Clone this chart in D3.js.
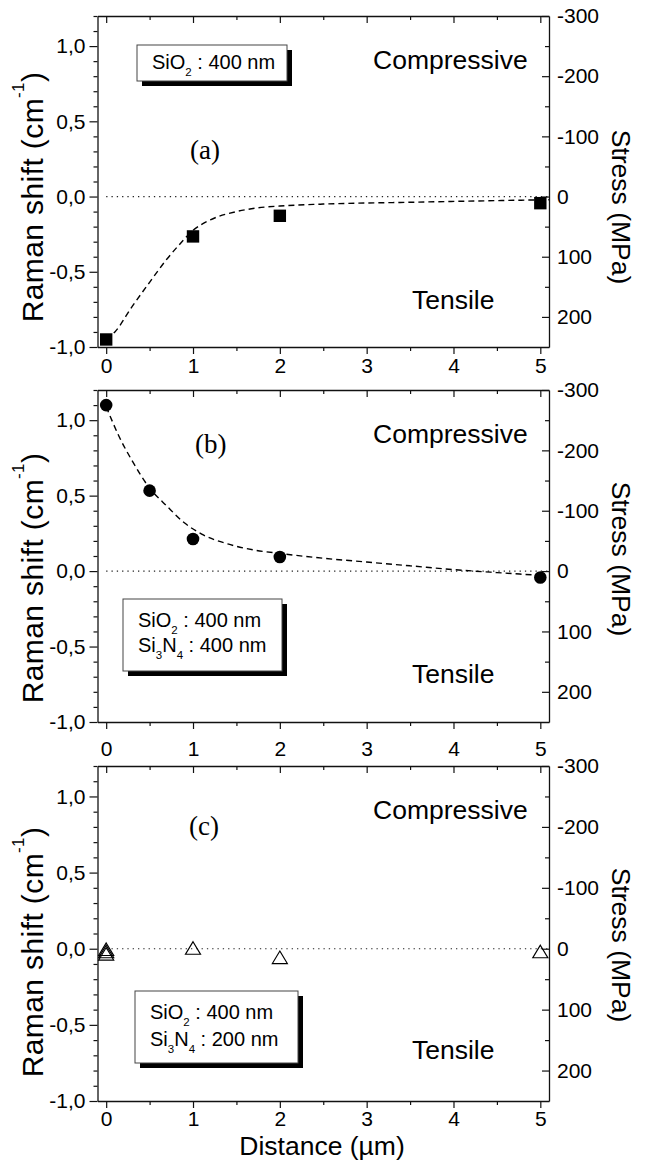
<!DOCTYPE html>
<html>
<head>
<meta charset="utf-8">
<script src="https://cdn.jsdelivr.net/npm/d3@7.9.0/dist/d3.min.js"></script>
<style>
  body { margin: 0; background: #fff; }
  svg text { font-family: "Liberation Sans", Arial, sans-serif; fill: #000; }
</style>
</head>
<body>
<svg id="chart" width="653" height="1161"></svg>
<script>
// values: distance (µm) vs Raman shift (cm-1)
const xTicks = [0, 1, 2, 3, 4, 5];
const shiftTicks = [-1, -0.5, 0, 0.5, 1];
const stressTicks = [-300, -200, -100, 0, 100, 200];

// (a) SiO2 400 nm
const distA = [0, 1, 2, 5];
const shiftA = [-0.95, -0.265, -0.128, -0.044];
const fitDistA = [0, 0.1, 0.3, 0.5, 0.7, 0.85, 1.0, 1.2, 1.5, 1.75, 2, 2.5, 3.5, 4.5, 5.1];
const fitShiftA = [-0.95, -0.9, -0.73, -0.57, -0.415, -0.315, -0.225, -0.155, -0.1, -0.075, -0.063, -0.05, -0.038, -0.027, -0.021];

// (b) SiO2 400 nm + Si3N4 400 nm
const distB = [0, 0.5, 1, 2, 5];
const shiftB = [1.10, 0.533, 0.213, 0.093, -0.042];
const fitDistB = [0, 0.15, 0.3, 0.5, 0.7, 0.9, 1.1, 1.4, 1.7, 2, 2.5, 3, 3.5, 4, 4.5, 5.05];
const fitShiftB = [1.09, 0.89, 0.73, 0.55, 0.43, 0.32, 0.245, 0.18, 0.14, 0.117, 0.085, 0.06, 0.035, 0.01, -0.01, -0.03];

// (c) SiO2 400 nm + Si3N4 200 nm
const distC = [0, 0, 0, 1, 2, 5];
const shiftC = [-0.005, -0.02, -0.035, 0.003, -0.058, -0.02];

// legend lines: [text, subscript] pieces
const legendA = [[["SiO", "2"], [" : 400 nm", ""]]];
const legendB = [[["SiO", "2"], [" : 400 nm", ""]], [["Si", "3"], ["N", "4"], [" : 400 nm", ""]]];
const legendC = [[["SiO", "2"], [" : 400 nm", ""]], [["Si", "3"], ["N", "4"], [" : 200 nm", ""]]];

const panels = [
  { tag: "(a)", dist: distA, shift: shiftA, fitX: fitDistA, fitY: fitShiftA, mark: "square", legend: legendA,
    top: 16, bottom: 347, box: [137, 45, 150, 36], lineY: [24], tagPos: [190, 159], xLab: 26, ramanY: 197, stressY: 207 },
  { tag: "(b)", dist: distB, shift: shiftB, fitX: fitDistB, fitY: fitShiftB, mark: "circle", legend: legendB,
    top: 390, bottom: 722, box: [123, 599, 159, 72], lineY: [27.5, 53], tagPos: [195, 453], xLab: 34, ramanY: 578, stressY: 559 },
  { tag: "(c)", dist: distC, shift: shiftC, fitX: null, fitY: null, mark: "triangle", legend: legendC,
    top: 766, bottom: 1101, box: [135, 991, 163, 72], lineY: [28, 55], tagPos: [189, 835], xLab: 25, ramanY: 952, stressY: 945 }
];

const svg = d3.select("#chart");
const x = d3.scaleLinear().domain([-0.1, 5.1]).range([97.5, 549]);

const fmtShift = d => d3.format(".1f")(d).replace(".", ",").replace("\u2212", "-");
const fmtStress = d => d3.format("d")(d).replace("\u2212", "-");

const minorShift = d3.range(-10, 13).map(i => i / 10).filter(v => Math.abs(v * 2 - Math.round(v * 2)) > 1e-6);
const minorStress = [-250, -150, -50, 50, 150];
const minorX = [0.5, 1.5, 2.5, 3.5, 4.5];

function styleAxis(g) {
  g.selectAll("path.domain").attr("stroke", "#111").attr("stroke-width", 1.3);
  g.selectAll(".tick line").attr("stroke", "#111").attr("stroke-width", 1.2);
  g.selectAll(".tick text").attr("font-size", 21).attr("font-family", '"Liberation Sans", Arial, sans-serif').attr("fill", "#000");
}

panels.forEach(p => {
  const y = d3.scaleLinear().domain([-1, 1.2]).range([p.bottom, p.top]);
  const ys = d3.scaleLinear().domain([250, -300]).range([p.bottom, p.top]);
  const g = svg.append("g");

  // zero reference
  g.append("line")
    .attr("x1", x(0)).attr("x2", x(5.1))
    .attr("y1", y(0)).attr("y2", y(0))
    .attr("stroke", "#222").attr("stroke-width", 1.2).attr("stroke-dasharray", "1.3,4");

  // fit curve
  if (p.fitX) {
    const pts = p.fitX.map((d, i) => [d, p.fitY[i]]);
    g.append("path")
      .attr("d", d3.line().x(d => x(d[0])).y(d => y(d[1])).curve(d3.curveMonotoneX)(pts))
      .attr("fill", "none").attr("stroke", "#000").attr("stroke-width", 1.4)
      .attr("stroke-dasharray", "6,4");
  }

  // axes: left / bottom with labels, top / right mirrored with inward ticks
  g.append("g").attr("transform", `translate(${x.range()[0]},0)`)
    .call(d3.axisLeft(y).tickValues(shiftTicks).tickFormat(fmtShift).tickSize(8).tickSizeOuter(0).tickPadding(4));
  g.append("g").attr("transform", `translate(${x.range()[0]},0)`)
    .call(d3.axisLeft(y).tickValues(minorShift).tickFormat("").tickSize(4).tickSizeOuter(0))
    .call(s => s.select("path.domain").remove());
  g.append("g").attr("transform", `translate(0,${p.bottom})`)
    .call(d3.axisBottom(x).tickValues(xTicks).tickFormat(d3.format("d")).tickSize(7).tickSizeOuter(0).tickPadding(p.xLab - 22));
  g.append("g").attr("transform", `translate(0,${p.bottom})`)
    .call(d3.axisBottom(x).tickValues(minorX).tickFormat("").tickSize(4).tickSizeOuter(0))
    .call(s => s.select("path.domain").remove());
  g.append("g").attr("transform", `translate(0,${p.top})`)
    .call(d3.axisTop(x).tickValues(xTicks).tickFormat("").tickSize(-7).tickSizeOuter(0));
  g.append("g").attr("transform", `translate(0,${p.top})`)
    .call(d3.axisTop(x).tickValues(minorX).tickFormat("").tickSize(-4).tickSizeOuter(0))
    .call(s => s.select("path.domain").remove());
  g.append("g").attr("transform", `translate(${x.range()[1]},0)`)
    .call(d3.axisRight(ys).tickValues(stressTicks).tickFormat(fmtStress).tickSize(-7).tickSizeOuter(0).tickPadding(8));
  g.append("g").attr("transform", `translate(${x.range()[1]},0)`)
    .call(d3.axisRight(ys).tickValues(minorStress).tickFormat("").tickSize(-4).tickSizeOuter(0))
    .call(s => s.select("path.domain").remove());
  g.selectAll("g").call(styleAxis);

  // markers
  const pts = p.dist.map((d, i) => ({ d, s: p.shift[i] }));
  if (p.mark === "square") {
    g.selectAll("rect.pt").data(pts).join("rect").attr("class", "pt")
      .attr("x", d => x(d.d) - 6.2).attr("y", d => y(d.s) - 6.2)
      .attr("width", 12.4).attr("height", 12.4).attr("fill", "#000");
  } else if (p.mark === "circle") {
    g.selectAll("circle.pt").data(pts).join("circle").attr("class", "pt")
      .attr("cx", d => x(d.d)).attr("cy", d => y(d.s)).attr("r", 6.3).attr("fill", "#000");
  } else {
    g.selectAll("path.pt").data(pts).join("path").attr("class", "pt")
      .attr("d", d => {
        const cx = x(d.d), cy = y(d.s);
        return `M${cx},${cy - 6.5}L${cx + 7.5},${cy + 6}L${cx - 7.5},${cy + 6}Z`;
      })
      .attr("fill", "none").attr("stroke", "#000").attr("stroke-width", 1.2);
  }

  // region labels
  g.append("text").attr("x", 373).attr("y", p.top + 53).attr("font-size", 26.5).text("Compressive");
  g.append("text").attr("x", 412).attr("y", p.top + 293).attr("font-size", 26.5).text("Tensile");
  g.append("text").attr("x", p.tagPos[0]).attr("y", p.tagPos[1])
    .style("font-family", '"Liberation Serif", "Times New Roman", serif')
    .attr("font-size", 27).text(p.tag);

  // legend box with drop shadow
  const [bx, by, bw, bh] = p.box;
  g.append("rect").attr("x", bx + 5).attr("y", by + 5).attr("width", bw).attr("height", bh).attr("fill", "#000");
  g.append("rect").attr("x", bx).attr("y", by).attr("width", bw).attr("height", bh)
    .attr("fill", "#fff").attr("stroke", "#444").attr("stroke-width", 1);
  p.legend.forEach((line, li) => {
    const t = g.append("text").attr("x", bx + 15).attr("y", by + p.lineY[li]).attr("font-size", 20);
    let shift = 0;
    line.forEach(([main, sub]) => {
      t.append("tspan").attr("dy", -shift).text(main);
      shift = 0;
      if (sub) {
        t.append("tspan").attr("font-size", 11.5).attr("dy", 7).text(sub);
        shift = 7;
      }
    });
  });

  // axis titles
  const rt = g.append("text").attr("transform", `translate(43,${p.ramanY}) rotate(-90)`)
    .attr("text-anchor", "middle").attr("font-size", 30).attr("letter-spacing", 0.4);
  rt.append("tspan").text("Raman shift (cm");
  rt.append("tspan").attr("font-size", 17).attr("dy", -19).text("-1");
  rt.append("tspan").attr("dy", 19).text(")");

  g.append("text").attr("transform", `translate(612,${p.stressY}) rotate(90)`)
    .attr("text-anchor", "middle").attr("font-size", 26.5).text("Stress (MPa)");
});

svg.append("text").attr("x", 322).attr("y", 1155).attr("text-anchor", "middle")
  .attr("font-size", 26.5).text("Distance (\u00b5m)");
</script>
</body>
</html>
